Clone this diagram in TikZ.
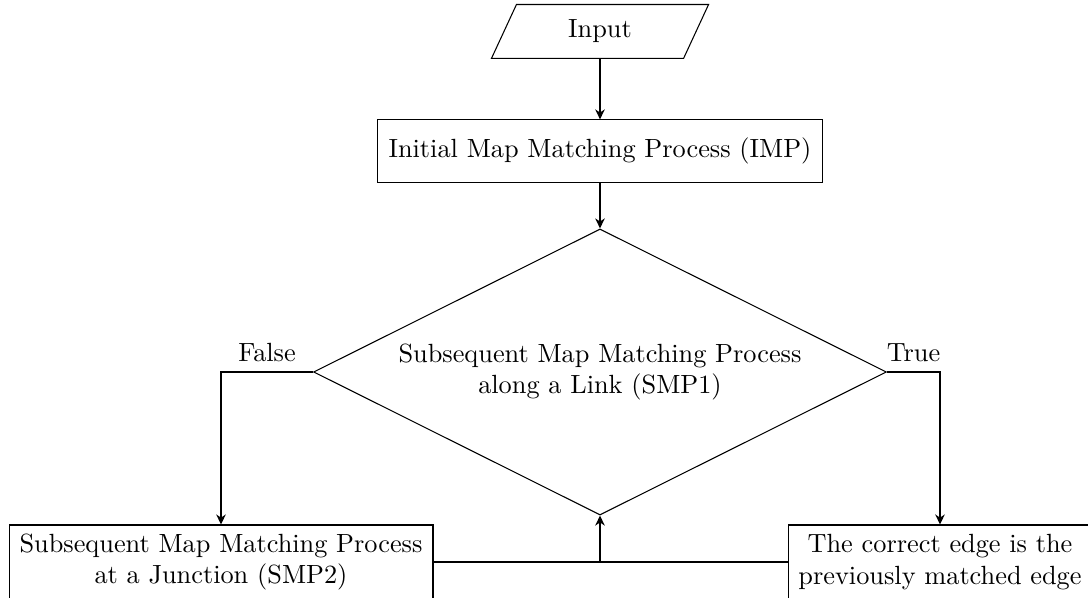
\documentclass[tikz,border=0pt]{standalone}
\usetikzlibrary{shapes.geometric,arrows.meta}
\tikzset{
  box/.style={draw, thin, rectangle, align=center, inner sep=0pt},
  decision/.style={draw, thin, diamond, align=center, inner sep=0pt, aspect=2},
  conn/.style={thick, -{Stealth[length=3.8pt,width=3.6pt,inset=1.2pt]}},
  plain/.style={thick},
}
\begin{document}
\begin{tikzpicture}[x=0.38pt, y=-0.38pt]
\useasboundingbox (0,0) rectangle (1088,598);
% nodes
\node[inner sep=0pt, minimum width=72.6pt, minimum height=20.1pt] (input) at (600,31.5) {Input};
\draw[thin] ([xshift=4.75pt]input.north west) -- ([xshift=4.75pt]input.north east)
  -- ([xshift=-4.75pt]input.south east) -- ([xshift=-4.75pt]input.south west) -- cycle;
\node[box, minimum width=169.1pt, minimum height=23.6pt] (imp) at (600,151) {Initial Map Matching Process (IMP)};
\node[decision, minimum width=217.7pt, minimum height=108.7pt] (d) at (600,372)
  {Subsequent Map Matching Process\\along a Link (SMP1)};
\node[box, minimum width=161.1pt, minimum height=28.1pt] (smp2) at (221,562)
  {Subsequent Map Matching Process\\at a Junction (SMP2)};
\node[box, minimum width=115.5pt, minimum height=28.1pt] (rbox) at (940,562)
  {The correct edge is the\\previously matched edge};
% connectors
\draw[conn] (input) -- (imp);
\draw[conn] (imp) -- (d);
\draw[conn] (d.west) -| node[above, pos=0.25] (lf) {False} (smp2.north);
\draw[conn] (d.east) -| node[above, pos=0.25] (lt) {True} (rbox.north);
\draw[plain] (smp2.east) -- (rbox.west);
\draw[conn] (smp2.east -| d.south) -- (d.south);
\end{tikzpicture}
\end{document}
